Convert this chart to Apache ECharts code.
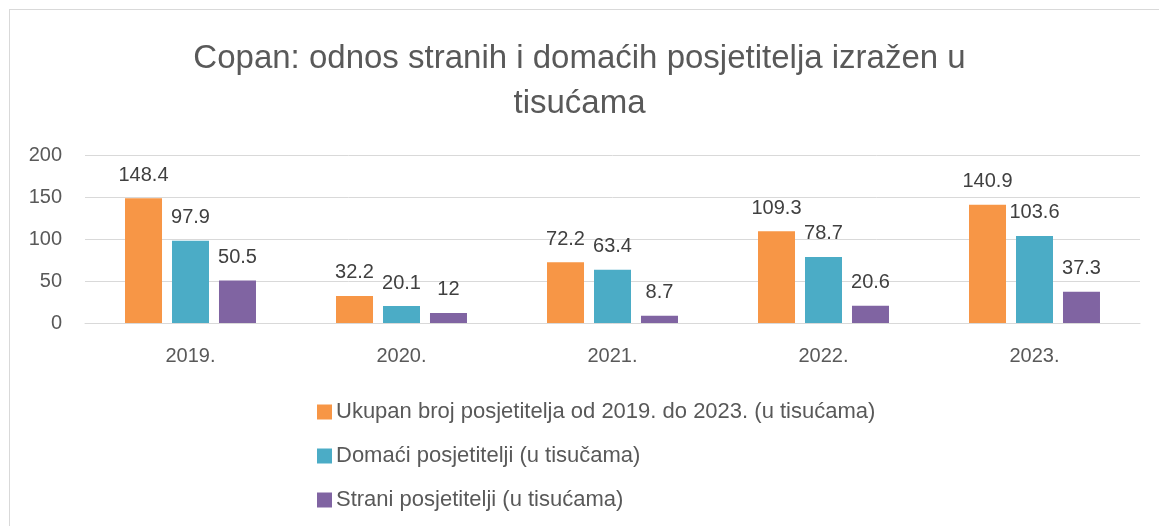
<!DOCTYPE html>
<html>
<head>
<meta charset="utf-8">
<script src="https://cdn.jsdelivr.net/npm/echarts@6/dist/echarts.min.js"></script>
<style>
  html, body { margin: 0; padding: 0; background: #fff; overflow: hidden; }
  #frame {
    position: absolute;
    left: 9px;
    top: 9px;
    width: 1160px;
    height: 530px;
    border: 1px solid #d9d9d9;
  }
  #charts {
    position: absolute;
    left: 0;
    top: 0;
    width: 1159px;
    height: 526px;
  }
</style>
</head>
<body>
<div id="frame"></div>
<div id="charts"></div>
<script>
const years = ['2019.', '2020.', '2021.', '2022.', '2023.']
const ukupno = [148.4, 32.2, 72.2, 109.3, 140.9]
const domaci = [97.9, 20.1, 63.4, 78.7, 103.6]
const strani = [50.5, 12, 8.7, 20.6, 37.3]
const yTicks = [0, 50, 100, 150, 200]

const seriesNames = [
  'Ukupan broj posjetitelja od 2019. do 2023. (u tisućama)',
  'Domaći posjetitelji (u tisučama)',
  'Strani posjetitelji (u tisućama)'
]
const colors = ['#f79646', '#4bacc6', '#8064a2']

const fontFamily = '"Liberation Sans", Arial, sans-serif'
const textColor = '#595959'

const charts = echarts.init(document.getElementById('charts'))

const label = {
  show: true,
  position: 'top',
  distance: 13,
  color: '#404040',
  fontSize: 20,
  fontFamily
}

function makeBar(name, data, color) {
  return {
    name,
    type: 'bar',
    data,
    barWidth: 37,
    barGap: '27%',
    itemStyle: { color },
    label
  }
}

const option = {
  animation: false,
  title: {
    text: 'Copan: odnos stranih i domaćih posjetitelja izražen u\ntisućama',
    left: 'center',
    top: 31,
    textStyle: {
      color: textColor,
      fontSize: 33,
      fontWeight: 'normal',
      fontFamily,
      lineHeight: 45
    }
  },
  legend: {
    orient: 'vertical',
    left: 312,
    top: 396,
    itemGap: 22,
    itemWidth: 15,
    itemHeight: 15,
    icon: 'rect',
    textStyle: {
      color: textColor,
      fontSize: 22,
      fontFamily,
      padding: [0, 0, 0, -1]
    },
    data: seriesNames
  },
  grid: {
    left: 85,
    right: 19,
    top: 155,
    bottom: 203
  },
  xAxis: {
    type: 'category',
    data: years,
    axisLine: { lineStyle: { color: '#d9d9d9' } },
    axisTick: { show: false },
    axisLabel: {
      color: textColor,
      fontSize: 20,
      fontFamily,
      margin: 23
    }
  },
  yAxis: {
    type: 'value',
    min: yTicks[0],
    max: yTicks[yTicks.length - 1],
    interval: yTicks[1] - yTicks[0],
    axisLine: { show: false },
    axisTick: { show: false },
    splitLine: { lineStyle: { color: '#d9d9d9' } },
    axisLabel: {
      color: textColor,
      fontSize: 20,
      fontFamily,
      margin: 23
    }
  },
  series: [
    makeBar(seriesNames[0], ukupno, colors[0]),
    makeBar(seriesNames[1], domaci, colors[1]),
    makeBar(seriesNames[2], strani, colors[2])
  ]
}

charts.setOption(option)
</script>
</body>
</html>
